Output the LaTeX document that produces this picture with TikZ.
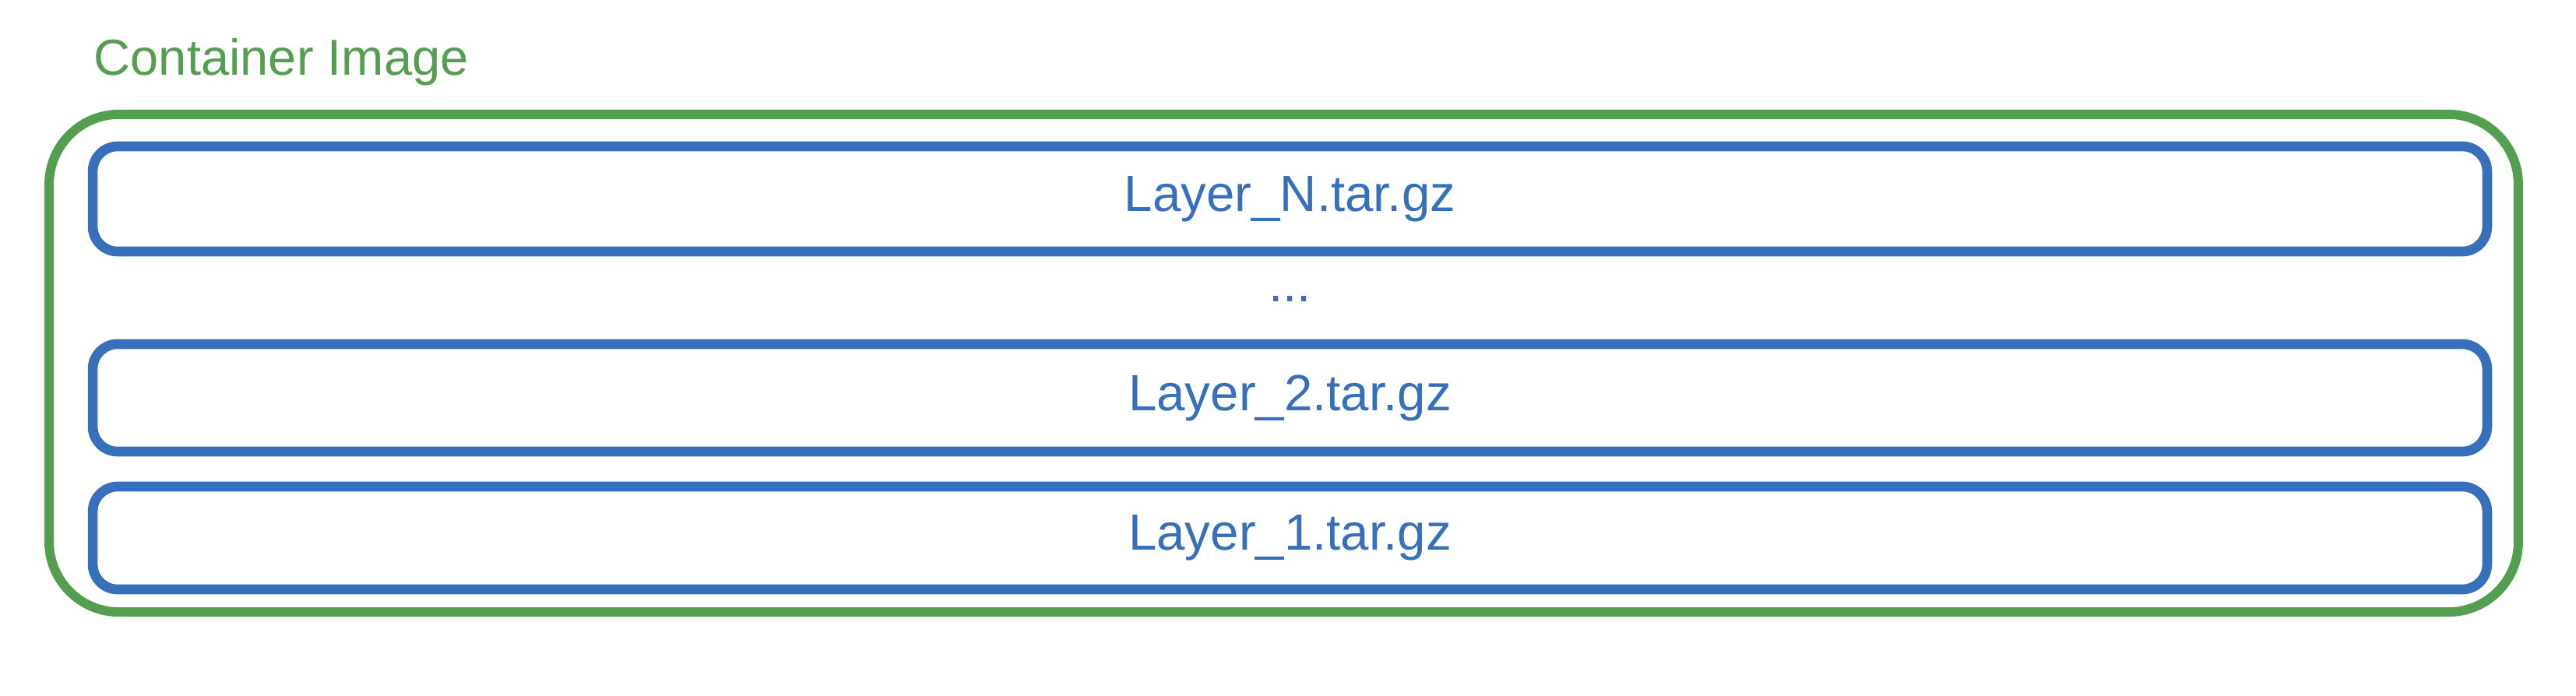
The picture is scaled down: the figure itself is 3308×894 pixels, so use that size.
\documentclass[tikz,border=0pt]{standalone}
\usepackage{fontspec}
\setmainfont{Liberation Sans}
\usepackage{tikz}
\usetikzlibrary{positioning,calc}
\definecolor{ImgGreen}{RGB}{84,158,80}
\definecolor{LayBlue}{RGB}{54,112,187}
\tikzset{
  image/.style={draw=ImgGreen,line width=3.4pt,rounded corners=0.9cm,minimum width=31.69cm,minimum height=6.39cm,inner sep=0pt},
  layer/.style={draw=LayBlue,line width=3.6pt,rounded corners=0.32cm,minimum width=30.73cm,inner sep=0pt,text=LayBlue,font=\fontsize{18.6}{22}\selectfont},
}
\tikzset{title/.style={text=ImgGreen,inner sep=0pt,font=\fontsize{18.5}{22}\selectfont}, gap/.style={text=LayBlue,inner sep=0pt,font=\fontsize{18.6}{22}\selectfont}}

\begin{document}
\begin{tikzpicture}[x=0.01cm,y=-0.01cm]
\useasboundingbox(0,0)rectangle(3308,894);
\node[title,anchor=base west](title)at(120,97){Container Image};
\node[image](image)at(1648.5,466.5){};
\foreach \name/\y/\h/\txt in {layerN/255.5/1.35cm/Layer\_N.tar.gz,layer2/511/1.38cm/Layer\_2.tar.gz,layer1/691/1.32cm/Layer\_1.tar.gz}{\node[layer,minimum height=\h](\name)at(1656.5,\y){\txt};}
\node[gap,anchor=base](dots)at(1656.5,387){...};
\end{tikzpicture}
\end{document}
